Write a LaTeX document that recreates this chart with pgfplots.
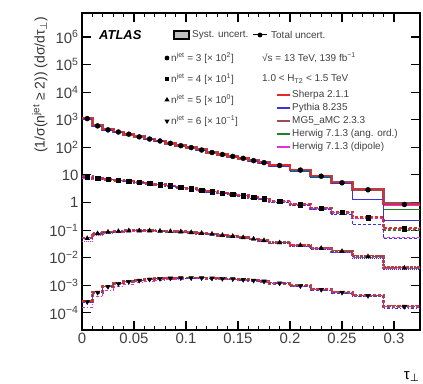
\documentclass[border=0pt]{standalone}
\usepackage{fontspec}
\setmainfont{Liberation Sans}
\newfontfamily\dejavu{DejaVu Sans}
\usepackage{pgfplots}
\pgfplotsset{compat=1.18}
\usepackage{pgfplotstable}

\definecolor{csherpa}{RGB}{230,40,40}
\definecolor{cpythia}{RGB}{60,50,220}
\definecolor{cmg}{RGB}{140,45,55}
\definecolor{cherwig}{RGB}{30,130,40}
\definecolor{cdipole}{RGB}{220,50,220}

% n^jet = 3 [x 10^2]
\pgfplotstableread{
x     c      d      sh     py     mg     ha     hd
0.00  0.005  1100   1150   1050   1080   1120   1000
0.01  0.015  600    620    590    610    600    580
0.02  0.025  430    440    425    435    430    425
0.03  0.035  360    365    355    360    362    358
0.04  0.045  300    305    298    300    302    300
0.05  0.055  240    245    240    242    240    243
0.06  0.065  200    204    200    202    199    203
0.07  0.075  170    172    168    171    170    172
0.08  0.085  140    143    138    141    140    142
0.09  0.095  115    118    113    116    115    117
0.10  0.105  98     100    95     99     97     99
0.11  0.115  80     82     78     81     80     81
0.12  0.125  65     67     63     66     65     66
0.13  0.135  55     57     53     56     55     56
0.14  0.145  47     48     45     47     47     48
0.15  0.155  40     41     38     40     40     41
0.16  0.165  33     34     31     33     33     34
0.17  0.175  28     29     26     28     28     29
0.18  0.19   22     23     20     22     22     23
0.20  0.21   15     15.5   13.5   15     15     15.5
0.22  0.23   9      9.5    8      9.2    9      9.3
0.24  0.25   5.2    5.5    4.8    5.3    5.2    5.4
0.26  0.275  2.9    3.0    1.3    3.0    2.9    3.0
0.29  0.31   0.85   0.85   0.23   0.9    0.55   0.8
0.33  nan    nan    0.85   0.23   0.9    0.55   0.8
}\tabA

% n^jet = 4 [x 10^1]
\pgfplotstableread{
x     c      d      sh     py     mg     ha     hd
0.00  0.005  8.5    8.8    8.3    8.6    8.4    7.5
0.01  0.015  7.5    7.7    7.4    7.6    7.5    7.0
0.02  0.025  7.0    7.1    6.9    7.0    7.0    6.7
0.03  0.035  6.5    6.6    6.4    6.5    6.5    6.3
0.04  0.045  6.0    6.1    5.9    6.0    6.0    5.9
0.05  0.055  5.5    5.6    5.4    5.5    5.5    5.4
0.06  0.065  5.0    5.1    4.9    5.0    5.0    5.0
0.07  0.075  4.5    4.6    4.4    4.5    4.5    4.5
0.08  0.085  4.0    4.1    3.9    4.0    4.0    4.0
0.09  0.095  3.6    3.7    3.5    3.6    3.6    3.6
0.10  0.105  3.2    3.3    3.1    3.2    3.2    3.2
0.11  0.115  2.8    2.9    2.7    2.8    2.8    2.8
0.12  0.125  2.5    2.6    2.4    2.5    2.5    2.5
0.13  0.135  2.2    2.3    2.1    2.2    2.2    2.2
0.14  0.145  2.0    2.05   1.9    2.0    2.0    2.0
0.15  0.155  1.75   1.8    1.65   1.75   1.75   1.75
0.16  0.165  1.55   1.6    1.45   1.55   1.55   1.55
0.17  0.175  1.35   1.4    1.25   1.35   1.35   1.35
0.18  0.19   1.1    1.15   1.0    1.1    1.1    1.1
0.20  0.21   0.85   0.88   0.76   0.85   0.85   0.83
0.22  0.23   0.62   0.65   0.55   0.62   0.62   0.60
0.24  0.25   0.45   0.47   0.38   0.45   0.45   0.43
0.26  0.275  0.28   0.30   0.16   0.29   0.28   0.26
0.29  0.31   0.11   0.12   0.05   0.11   0.10   0.055
0.33  nan    nan    0.12   0.05   0.11   0.10   0.055
}\tabB

% n^jet = 5 [x 10^0]
\pgfplotstableread{
x     c      d       sh      py      mg      ha      hd
0.00  0.005  0.050   0.055   0.048   0.052   0.050   0.040
0.01  0.015  0.075   0.078   0.073   0.076   0.075   0.065
0.02  0.025  0.085   0.087   0.083   0.085   0.085   0.078
0.03  0.035  0.090   0.092   0.089   0.090   0.090   0.085
0.04  0.045  0.095   0.096   0.094   0.095   0.095   0.090
0.05  0.055  0.095   0.097   0.094   0.095   0.095   0.092
0.06  0.065  0.095   0.097   0.094   0.095   0.095   0.093
0.07  0.075  0.093   0.095   0.092   0.093   0.093   0.092
0.08  0.085  0.090   0.092   0.089   0.090   0.090   0.090
0.09  0.095  0.087   0.089   0.085   0.087   0.087   0.087
0.10  0.105  0.082   0.084   0.080   0.082   0.082   0.082
0.11  0.115  0.077   0.079   0.075   0.077   0.077   0.077
0.12  0.125  0.072   0.074   0.070   0.072   0.072   0.072
0.13  0.135  0.065   0.067   0.063   0.065   0.065   0.065
0.14  0.145  0.060   0.062   0.058   0.060   0.060   0.060
0.15  0.155  0.054   0.056   0.052   0.054   0.054   0.054
0.16  0.165  0.048   0.050   0.046   0.048   0.048   0.048
0.17  0.175  0.042   0.044   0.040   0.042   0.042   0.042
0.18  0.19   0.035   0.036   0.033   0.035   0.035   0.034
0.20  0.21   0.028   0.029   0.026   0.028   0.028   0.027
0.22  0.23   0.022   0.023   0.020   0.022   0.022   0.021
0.24  0.25   0.017   0.018   0.015   0.017   0.017   0.016
0.26  0.275  0.011   0.012   0.0095  0.011   0.011   0.010
0.29  0.31   0.0042  0.0045  0.0036  0.0043  0.0042  0.0040
0.33  nan    nan     0.0045  0.0036  0.0043  0.0042  0.0040
}\tabC

% n^jet = 6 [x 10^-1]
\pgfplotstableread{
x     c      d        sh       py       mg       ha       hd
0.00  0.005  2.5e-4   2.7e-4   2.4e-4   2.6e-4   2.5e-4   1.6e-4
0.01  0.015  5.5e-4   5.8e-4   5.4e-4   5.6e-4   5.5e-4   3.8e-4
0.02  0.025  9.0e-4   9.3e-4   8.8e-4   9.1e-4   9.0e-4   6.5e-4
0.03  0.035  1.15e-3  1.2e-3   1.13e-3  1.16e-3  1.15e-3  8.8e-4
0.04  0.045  1.35e-3  1.4e-3   1.33e-3  1.36e-3  1.35e-3  1.08e-3
0.05  0.055  1.5e-3   1.55e-3  1.48e-3  1.5e-3   1.5e-3   1.25e-3
0.06  0.065  1.65e-3  1.7e-3   1.62e-3  1.65e-3  1.65e-3  1.4e-3
0.07  0.075  1.75e-3  1.8e-3   1.72e-3  1.75e-3  1.75e-3  1.52e-3
0.08  0.085  1.8e-3   1.85e-3  1.78e-3  1.8e-3   1.8e-3   1.6e-3
0.09  0.095  1.85e-3  1.9e-3   1.82e-3  1.85e-3  1.85e-3  1.68e-3
0.10  0.105  1.85e-3  1.9e-3   1.82e-3  1.85e-3  1.85e-3  1.7e-3
0.11  0.115  1.85e-3  1.9e-3   1.8e-3   1.85e-3  1.85e-3  1.72e-3
0.12  0.125  1.8e-3   1.85e-3  1.75e-3  1.8e-3   1.8e-3   1.7e-3
0.13  0.135  1.75e-3  1.8e-3   1.7e-3   1.75e-3  1.75e-3  1.66e-3
0.14  0.145  1.7e-3   1.75e-3  1.64e-3  1.7e-3   1.7e-3   1.62e-3
0.15  0.155  1.6e-3   1.65e-3  1.54e-3  1.6e-3   1.6e-3   1.54e-3
0.16  0.165  1.5e-3   1.55e-3  1.44e-3  1.5e-3   1.5e-3   1.45e-3
0.17  0.175  1.4e-3   1.45e-3  1.33e-3  1.4e-3   1.4e-3   1.36e-3
0.18  0.19   1.2e-3   1.25e-3  1.12e-3  1.2e-3   1.2e-3   1.17e-3
0.20  0.21   9.5e-4   1.0e-3   8.8e-4   9.6e-4   9.5e-4   9.3e-4
0.22  0.23   7.0e-4   7.4e-4   6.4e-4   7.1e-4   7.0e-4   6.9e-4
0.24  0.25   5.5e-4   5.8e-4   5.0e-4   5.6e-4   5.5e-4   5.4e-4
0.26  0.275  4.2e-4   4.4e-4   3.8e-4   4.3e-4   4.2e-4   4.1e-4
0.29  0.31   1.7e-4   1.8e-4   1.5e-4   1.75e-4  1.7e-4   1.65e-4
0.33  nan    nan      1.8e-4   1.5e-4   1.75e-4  1.7e-4   1.65e-4
}\tabD

\newcommand{\mcset}[2]{%
  \addplot[const plot mark left, cmg, line width=2.8bp, opacity=0.85, #2] table[x=x,y=mg]{#1};
  \addplot[const plot mark left, cherwig, line width=1bp, #2] table[x=x,y=ha]{#1};
  \addplot[const plot mark left, cdipole, line width=1bp, #2] table[x=x,y=hd]{#1};
  \addplot[const plot mark left, cpythia, line width=1bp, #2] table[x=x,y=py]{#1};
  \addplot[const plot mark left, csherpa, line width=1.2bp, #2] table[x=x,y=sh]{#1};
}

\begin{document}
\begin{tikzpicture}
\begin{axis}[
  at={(0,0)}, anchor=south west,
  scale only axis, width=338bp, height=317bp,
  ymode=log, log basis y=10,
  xmin=0, xmax=0.325, ymin=2.4e-5, ymax=7.4e6,
  xtick={0,0.05,0.1,0.15,0.2,0.25,0.3},
  xticklabels={0,0.05,0.1,0.15,0.2,0.25,0.3},
  minor x tick num=4,
  ytick={1e-4,1e-3,1e-2,1e-1,1,10,100,1e3,1e4,1e5,1e6},
  yticklabels={10\textsuperscript{−4},10\textsuperscript{−3},10\textsuperscript{−2},10\textsuperscript{−1},1,10,10\textsuperscript{2},10\textsuperscript{3},10\textsuperscript{4},10\textsuperscript{5},10\textsuperscript{6}},
  tick align=inside,
  major tick length=9bp, minor tick length=4.5bp,
  every tick/.style={black, line width=1.1bp},
  axis line style={line width=1.3bp},
  ticklabel style={font=\fontsize{15}{15}\selectfont, text=black!75},
  clip=true,
]
\mcset{\tabA}{solid}
\mcset{\tabB}{densely dashed}
\mcset{\tabC}{densely dotted}
\mcset{\tabD}{dash dot}
\addplot[only marks, mark=*, mark size=2.5pt, black] table[x=c,y=d]{\tabA};
\addplot[only marks, mark=square*, mark size=2.3pt, black] table[x=c,y=d]{\tabB};
\addplot[only marks, mark=triangle*, mark size=2.7pt, black] table[x=c,y=d]{\tabC};
\addplot[only marks, mark=triangle*, mark size=2.7pt, mark options={rotate=180}, black] table[x=c,y=d]{\tabD};
\end{axis}

% y label
\node[rotate=90, anchor=east, font=\fontsize{14}{14}\selectfont, text=black!80] at (-42bp,317bp)
  {(1/σ(n\textsuperscript{jet} ≥ 2)) (dσ/dτ\textsubscript{\dejavu ⊥})};
% x label
\node[anchor=north east, font=\fontsize{15}{15}\selectfont] at (341bp,-38bp) {τ\textsubscript{\dejavu ⊥}};

% legend
\begin{scope}[every node/.style={font=\fontsize{10}{12}\selectfont, text=black!75, inner sep=0pt}]
\node[anchor=west, font=\fontsize{13}{13}\selectfont\bfseries\itshape, text=black] at (17bp,295bp) {ATLAS};
\draw[fill=black!25, line width=1.2bp] (92bp,291bp) rectangle (107bp,299bp);
\node[anchor=west] at (110bp,295bp) {Syst. uncert.};
\draw[line width=1bp] (171bp,295bp) -- (185bp,295bp);
\fill (178bp,295bp) circle (2.4bp);
\node[anchor=west] at (189bp,295bp) {Total uncert.};

\fill (85bp,272bp) circle (2.4bp);
\node[anchor=west] at (89bp,272bp) {n\textsuperscript{jet} = 3 [× 10\textsuperscript{2}]};
\fill (82.7bp,248.7bp) rectangle (87.3bp,253.3bp);
\node[anchor=west] at (89bp,251bp) {n\textsuperscript{jet} = 4 [× 10\textsuperscript{1}]};
\fill (82.4bp,228.6bp) -- (87.6bp,228.6bp) -- (85bp,233.1bp) -- cycle;
\node[anchor=west] at (89bp,230bp) {n\textsuperscript{jet} = 5 [× 10\textsuperscript{0}]};
\fill (82.4bp,210.4bp) -- (87.6bp,210.4bp) -- (85bp,205.9bp) -- cycle;
\node[anchor=west] at (89bp,209bp) {n\textsuperscript{jet} = 6 [× 10\textsuperscript{−1}]};

\node[anchor=west] at (180bp,272bp) {√s = 13 TeV, 139 fb\textsuperscript{−1}};
\node[anchor=west] at (180bp,251bp) {1.0 < H\textsubscript{T2} < 1.5 TeV};

\draw[csherpa, line width=1.2bp] (195bp,235bp) -- (208bp,235bp);
\node[anchor=west] at (210bp,235bp) {Sherpa 2.1.1};
\draw[cpythia, line width=1.2bp] (195bp,222bp) -- (208bp,222bp);
\node[anchor=west] at (210bp,222bp) {Pythia 8.235};
\draw[cmg, line width=2.8bp, opacity=0.85] (195bp,209bp) -- (208bp,209bp);
\node[anchor=west] at (210bp,209bp) {MG5\_aMC 2.3.3};
\draw[cherwig, line width=1.2bp] (195bp,196bp) -- (208bp,196bp);
\node[anchor=west] at (210bp,196bp) {Herwig 7.1.3 (ang. ord.)};
\draw[cdipole, line width=1.2bp] (195bp,183bp) -- (208bp,183bp);
\node[anchor=west] at (210bp,183bp) {Herwig 7.1.3 (dipole)};
\end{scope}

\pgfresetboundingbox
\path[use as bounding box] (-82bp,-54bp) rectangle (341bp,330bp);
\end{tikzpicture}
\end{document}
